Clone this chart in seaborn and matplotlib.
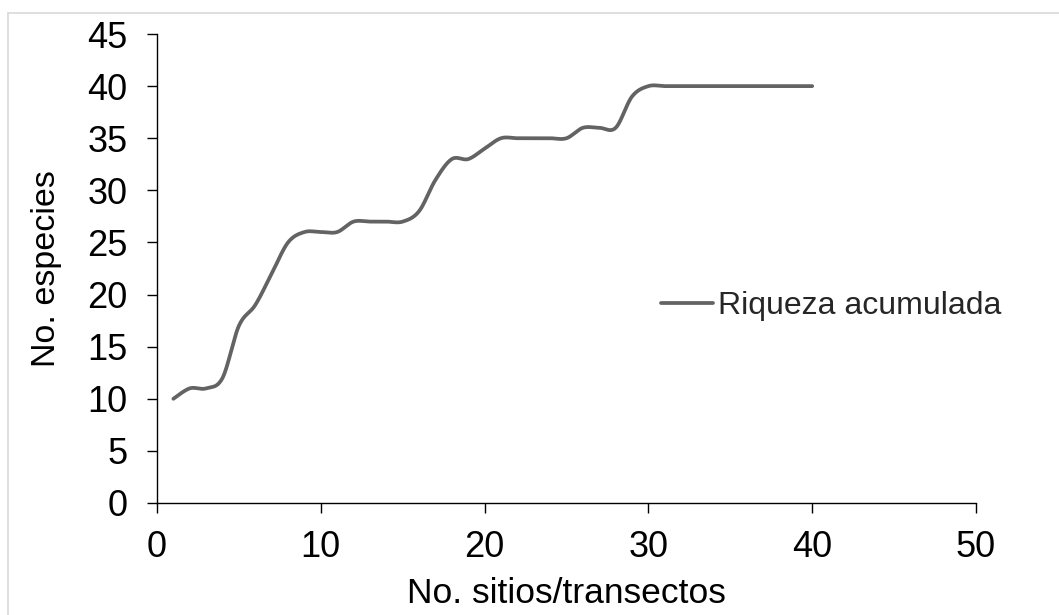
import numpy as np
import pandas as pd
import matplotlib
matplotlib.use("Agg")
import matplotlib.pyplot as plt
from matplotlib.lines import Line2D
import seaborn as sns

# ---- data ----
sitios = list(range(1, 41))
especies = [10, 11, 11, 12, 17, 19, 22, 25, 26, 26,
            26, 27, 27, 27, 27, 28, 31, 33, 33, 34,
            35, 35, 35, 35, 35, 36, 36, 36, 39, 40,
            40, 40, 40, 40, 40, 40, 40, 40, 40, 40]
serie = "Riqueza acumulada"
x_label = "No. sitios/transectos"
y_label = "No. especies"
x_ticks = [0, 10, 20, 30, 40, 50]
y_ticks = [0, 5, 10, 15, 20, 25, 30, 35, 40, 45]


def smooth(xs, ys, n=30):
    """Excel-like smoothed line (Catmull-Rom Bezier through data points)."""
    P = np.column_stack([xs, ys]).astype(float)
    P = np.vstack([P[0], P, P[-1]])
    out = []
    t = np.linspace(0, 1, n, endpoint=False)[:, None]
    for i in range(1, len(P) - 2):
        p0, p1, p2, p3 = P[i - 1], P[i], P[i + 1], P[i + 2]
        b1 = p1 + (p2 - p0) / 6.0
        b2 = p2 - (p3 - p1) / 6.0
        seg = ((1 - t) ** 3) * p1 + 3 * ((1 - t) ** 2) * t * b1 + 3 * (1 - t) * t ** 2 * b2 + t ** 3 * p2
        out.append(seg)
    out.append(P[-2][None, :])
    return np.vstack(out)


sm = smooth(sitios, especies)
df = pd.DataFrame({"x": sm[:, 0], "y": sm[:, 1], "serie": serie})

sns.set_theme(style="white")
plt.rcParams["font.family"] = ["Liberation Sans", "DejaVu Sans"]

W, H = 1059, 615
fig = plt.figure(figsize=(W / 100, H / 100), dpi=100)
ax = fig.add_axes([157 / W, 1 - 503 / H, (976 - 157) / W, (503 - 34) / H])

line_color = "#636363"
lw = 2.7
sns.lineplot(data=df, x="x", y="y", ax=ax, color=line_color, linewidth=lw,
             sort=False, estimator=None, legend=False)

ax.set_xlim(0, 50)
ax.set_ylim(0, 45)
ax.set_xticks(x_ticks)
ax.set_yticks(y_ticks)
ax.tick_params(axis="both", which="major", labelsize=26, colors="black",
               length=7.2, width=1.0, direction="out",
               bottom=True, left=True, top=False, right=False)
ax.tick_params(axis="y", pad=14)
ax.tick_params(axis="x", pad=12)
for s in ["top", "right"]:
    ax.spines[s].set_visible(False)
for s in ["left", "bottom"]:
    ax.spines[s].set_color("black")
    ax.spines[s].set_linewidth(1.0)

ax.set_xlabel(x_label, fontsize=25.5, color="black", labelpad=9)
ax.set_ylabel(y_label, fontsize=24.5, color="black", labelpad=18)

handle = Line2D([], [], color=line_color, linewidth=lw)
ax.legend([handle], [serie], loc="center left", bbox_to_anchor=(0.615, 0.42),
          frameon=False, fontsize=23, handlelength=1.63, handletextpad=0.16,
          borderpad=0, borderaxespad=0)

# chart-area border (left and top edges visible)
fig.add_artist(Line2D([8 / W, 8 / W], [0, 1 - 13 / H], transform=fig.transFigure,
                      color="#d9d9d9", linewidth=1.2))
fig.add_artist(Line2D([8 / W, 1], [1 - 13 / H, 1 - 13 / H], transform=fig.transFigure,
                      color="#d9d9d9", linewidth=1.2))

fig.savefig("out.png", dpi=100, facecolor="white")
